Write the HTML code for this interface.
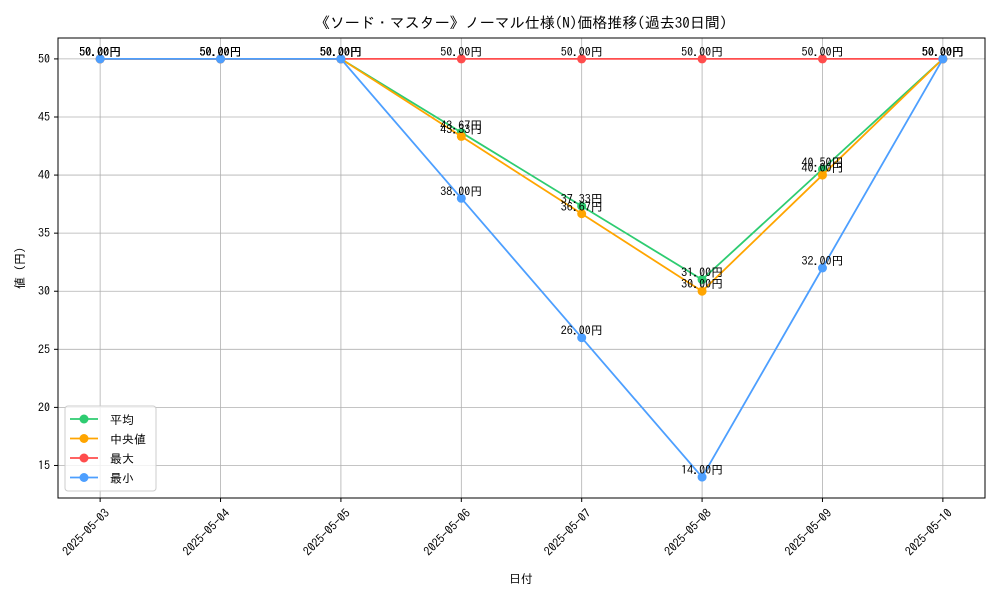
<!DOCTYPE html>
<html><head><meta charset="utf-8"><style>
body{margin:0;background:#fff;}
svg text{font-family:"IPAGothic","Noto Sans CJK JP",sans-serif;fill:#000;}
</style></head><body>
<svg id="chart" width="1000" height="600" xmlns="http://www.w3.org/2000/svg">
<rect width="1000" height="600" fill="#fff"/>
<text x="521" y="28" font-size="15" text-anchor="middle">《ソード・マスター》ノーマル仕様(N)価格推移(過去30日間)</text>
<g id="grid"></g><g id="series"></g><g id="labels"></g><g id="axes"></g>
<text x="521" y="583" font-size="12" text-anchor="middle">日付</text>
<text transform="translate(24,268) rotate(-90)" font-size="12" text-anchor="middle">値 (円)</text>
<g>
<rect x="65" y="406" width="91" height="85" rx="3" fill="#fff" fill-opacity="0.8" stroke="#ccc"/>
<g id="legend-items"></g>
</g>
</svg>
<script>
const categories=["2025-05-03","2025-05-04","2025-05-05","2025-05-06","2025-05-07","2025-05-08","2025-05-09","2025-05-10"];
const meanValues=[50,50,50,43.67,37.33,31,40.5,50];
const medianValues=[50,50,50,43.33,36.67,30,40,50];
const maxValues=[50,50,50,50,50,50,50,50];
const minValues=[50,50,50,38,26,14,32,50];
const yTicks=[15,20,25,30,35,40,45,50];
const seriesNames=["平均","中央値","最大","最小"];
const seriesColors=["#2ecc71","#ffa500","#ff4d4d","#4d9fff"];

const L=58,R=985,T=38,B=498,yMin=12.2,yMax=51.8;
const NS="http://www.w3.org/2000/svg";
function xs(i){return L+(i+0.35)*(R-L)/(categories.length-1+0.7);}
function ys(v){return B-(v-yMin)/(yMax-yMin)*(B-T);}
function mk(tag,attrs,parent){const e=document.createElementNS(NS,tag);for(const k in attrs)e.setAttribute(k,attrs[k]);parent.appendChild(e);return e;}
const grid=document.getElementById('grid'),axes=document.getElementById('axes'),ser=document.getElementById('series'),lab=document.getElementById('labels');
yTicks.forEach(t=>{const y=ys(t);
 const g=mk('line',{x1:L,x2:R,y1:y,y2:y,stroke:'#b0b0b0','stroke-width':0.8},grid);
 
 
 mk('line',{x1:L-4,x2:L,y1:y,y2:y,stroke:'#000'},axes);
 const tx=mk('text',{x:L-8,y:y+4,'font-size':12,'text-anchor':'end'},axes);tx.textContent=t;
 
 
});
categories.forEach((c,i)=>{const x=xs(i);
 const g=mk('line',{x1:x,x2:x,y1:T,y2:B,stroke:'#b0b0b0','stroke-width':0.8},grid);
 
 
 mk('line',{x1:x,x2:x,y1:B,y2:B+4,stroke:'#000'},axes);
 const tx=mk('text',{transform:`translate(${x+4},${B+10}) rotate(-45)`,'font-size':12,'text-anchor':'end',dy:'0.7em'},axes);tx.textContent=c;
 
 
});
const fr=mk('rect',{x:L,y:T,width:R-L,height:B-T,fill:'none',stroke:'#000','stroke-width':1},axes);


const all=[meanValues,medianValues,maxValues,minValues];
all.forEach((vals,s)=>{
 const p=mk('polyline',{points:vals.map((v,i)=>xs(i)+','+ys(v)).join(' '),fill:'none',stroke:seriesColors[s],'stroke-width':1.8},ser);
 
 
 vals.forEach((v,i)=>{
  const c=mk('circle',{cx:xs(i),cy:ys(v),r:4.5,fill:seriesColors[s]},ser);
  
  
  const t=mk('text',{x:xs(i),y:ys(v)-3,'font-size':12,'text-anchor':'middle'},lab);
  t.textContent=v.toFixed(2)+'円';
  
  
 });
});
const li=document.getElementById('legend-items');
seriesNames.forEach((n,s)=>{const y=419+s*19.5;
 mk('line',{x1:70,x2:98,y1:y,y2:y,stroke:seriesColors[s],'stroke-width':1.8},li);
 mk('circle',{cx:84,cy:y,r:4.5,fill:seriesColors[s]},li);
 const t=mk('text',{x:110,y:y+5,'font-size':12},li);t.textContent=n;
 
 
});
</script>
</body></html>
